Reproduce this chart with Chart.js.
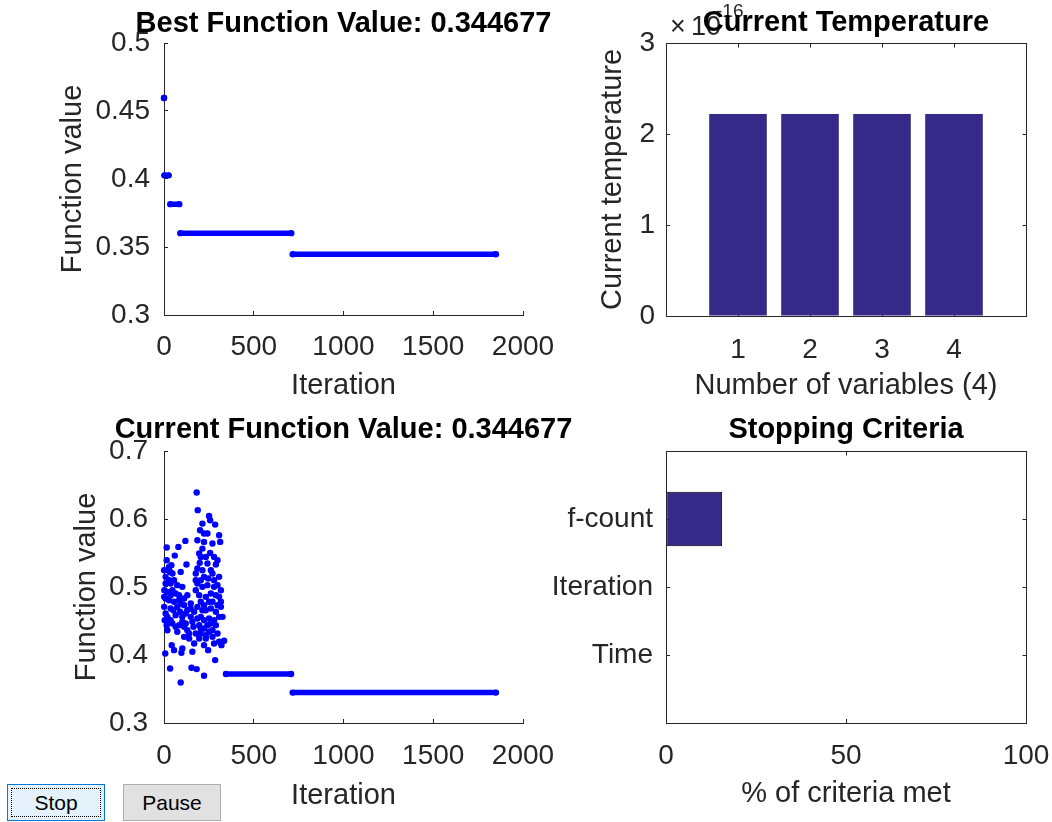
<!DOCTYPE html>
<html>
<head>
<meta charset="utf-8">
<title>Simulated annealing progress</title>
<script src="https://cdn.jsdelivr.net/npm/chart.js@4.4.1/dist/chart.umd.min.js"></script>
<style>
  html, body { margin: 0; padding: 0; background: #fff; }
  #fig { position: relative; width: 1052px; height: 822px; background: #fff; overflow: hidden; }
  #fig canvas { position: absolute; }
  .btn { position: absolute; top: 784px; height: 37px; box-sizing: border-box; padding: 0;
         font: 21px "Liberation Sans", Arial, sans-serif; color: #000; z-index: 2; }
  #stop { left: 7px; width: 98px; background: #e5f1fb; border: 1px solid #0078d7; }
  #stop span { position: absolute; left: 3px; top: 3px; right: 3px; bottom: 3px; border: 1px dotted #000;
               display: flex; align-items: center; justify-content: center; }
  #pause { left: 123px; width: 98px; background: #e1e1e1; border: 1px solid #adadad; }
</style>
</head>
<body>
<div id="fig">
  <canvas id="best" width="600" height="410" style="left:0;top:0"></canvas>
  <canvas id="temp" width="512" height="410" style="left:540px;top:0"></canvas>
  <canvas id="curr" width="600" height="417" style="left:0;top:405px"></canvas>
  <canvas id="crit" width="512" height="417" style="left:540px;top:405px"></canvas>
  <button class="btn" id="stop"><span>Stop</span></button>
  <button class="btn" id="pause">Pause</button>
</div>
<script>
'use strict';

/* ---------- data ---------- */

// best value so far: runs of constant value (start iter, end iter, value)
const bestSegStart = [0, 2, 35, 91, 717];
const bestSegEnd   = [0, 26, 85, 709, 1849];
const bestSegValue = [0.4596, 0.4027, 0.3815, 0.3602, 0.344677];
const bestValue = 0.344677;

// current value: scattered points during the hot phase ...
const currIter = [
  182, 188, 251, 214, 257, 285, 201, 242, 223, 307,
  313, 119, 80, 15, 214, 196, 257, 60, 15, 199,
  125, 289, 28, 242, 261, 34, 47, 93, 177, 223,
  246, 279, 298, 9, 37, 186, 214, 242, 2, 19,
  47, 65, 84, 130, 177, 261, 289, 307, 9, 28,
  56, 93, 112, 149, 205, 223, 270, 298, 1, 37,
  74, 130, 168, 233, 261, 317, 9, 65, 102, 149,
  186, 205, 251, 279, 326, 15, 47, 84, 112, 130,
  196, 223, 261, 28, 140, 205, 233, 270, 233, 307,
  335, 43, 56, 102, 97, 158, 168, 246, 320, 7,
  285, 34, 153, 182, 223, 93,
  1, 22, 41, 9, 28, 56, 74, 102, 1, 37,
  52, 84, 112, 121, 149, 89, 19, 37, 65, 102,
  121, 158, 164, 177, 74, 19, 4, 140, 112,
  186, 223, 270, 205, 233, 279, 298, 186, 214, 270,
  307, 205, 177, 279, 317, 196, 233, 251, 317, 186,
  214, 289, 307, 223, 242, 289, 205, 251, 298, 270,
  196, 223, 279
];
const currValue = [
  0.639, 0.613, 0.6045, 0.5932, 0.5981, 0.5918, 0.5835, 0.5786, 0.5786, 0.5761,
  0.5663, 0.5678, 0.5590, 0.5580, 0.5565, 0.5492, 0.5501, 0.5462, 0.5394, 0.5355,
  0.5330, 0.5330, 0.5296, 0.5345, 0.5247, 0.5222, 0.5198, 0.5222, 0.5198, 0.5149,
  0.5124, 0.5100, 0.5027, 0.5149, 0.5051, 0.5051, 0.5002, 0.5027, 0.4953, 0.4929,
  0.4953, 0.4904, 0.4880, 0.4880, 0.4953, 0.4904, 0.4880, 0.4855, 0.4831, 0.4806,
  0.4782, 0.4757, 0.4733, 0.4757, 0.4782, 0.4733, 0.4782, 0.4733, 0.4708, 0.4684,
  0.4708, 0.4659, 0.4635, 0.4659, 0.4684, 0.4708, 0.4610, 0.4586, 0.4561, 0.4561,
  0.4537, 0.4561, 0.4537, 0.4512, 0.4561, 0.4439, 0.4463, 0.4439, 0.4414, 0.4365,
  0.4439, 0.4390, 0.4463, 0.4512, 0.4316, 0.4316, 0.4292, 0.4365, 0.4243, 0.4194,
  0.4209, 0.4145, 0.4071, 0.4096, 0.4032, 0.4047, 0.4169, 0.4071, 0.4145, 0.4023,
  0.3925, 0.3802, 0.3812, 0.3793, 0.3694, 0.3596,
  0.5247, 0.5247, 0.5320, 0.5051, 0.5100, 0.5100, 0.5027, 0.5002, 0.4855, 0.4880,
  0.4659, 0.4806, 0.4831, 0.4610, 0.4684, 0.4635, 0.4561, 0.4512, 0.4414, 0.4488,
  0.4463, 0.4488, 0.4414, 0.4316, 0.4341, 0.4365, 0.4512, 0.4243, 0.4267,
  0.5688, 0.5663, 0.5639, 0.5443, 0.5443, 0.5443, 0.5394, 0.5271, 0.5247, 0.5198,
  0.5149, 0.5100, 0.5100, 0.5002, 0.4953, 0.4880, 0.4855, 0.4782, 0.4782, 0.4708,
  0.4659, 0.4635, 0.4561, 0.4512, 0.4439, 0.4439, 0.4390, 0.4341, 0.4316, 0.4267,
  0.4243, 0.4145, 0.4169
];
// ... then long flat runs once it has cooled
const currSegStart = [345, 717];
const currSegEnd   = [708, 1849];
const currSegValue = [0.372, 0.344677];
const currentValue = 0.344677;

const iterTicks = [0, 500, 1000, 1500, 2000];
const bestTicks = [0.3, 0.35, 0.4, 0.45, 0.5];
const currTicks = [0.3, 0.4, 0.5, 0.6, 0.7];

// temperature per variable
const variables = [1, 2, 3, 4];
const temperature = [2.2204e-16, 2.2204e-16, 2.2204e-16, 2.2204e-16];
const tempTicks = [0, 1e-16, 2e-16, 3e-16];
const tempExponent = -16;

// stopping criteria
const criteria = ['f-count', 'Iteration', 'Time'];
const criteriaMet = [15.6, 0, 0];
const percentTicks = [0, 50, 100];

/* ---------- styling helpers ---------- */

const FONT = '"Liberation Sans", Arial, Helvetica, sans-serif';
const AXIS = '#262626';
const BLUE = '#0000ff';
const NAVY = '#352a87';

function fixedTicks(values) {
  return scale => { scale.ticks = values.map(v => ({ value: v })); };
}

// MATLAB-like axis: inward tick marks, no grid, fixed box size.
// Label overhang padding is dropped so the plot box stays where layout.padding puts it.
function axis(o) {
  return {
    type: 'linear',
    position: o.position,
    offset: false,
    min: o.min, max: o.max, reverse: !!o.reverse,
    afterBuildTicks: fixedTicks(o.ticks),
    afterFit: s => {
      if (s.isHorizontal()) { s.height = o.size; s.paddingLeft = 0; s.paddingRight = 0; }
      else { s.width = o.size; s.paddingTop = 0; s.paddingBottom = 0; }
    },
    grid: { offset: false, drawOnChartArea: false, drawTicks: true, tickLength: -4, color: AXIS, lineWidth: 1 },
    border: { display: true, color: AXIS, width: 1 },
    ticks: {
      color: AXIS, font: { family: FONT, size: 28 }, padding: o.tickPad,
      autoSkip: false, maxRotation: 0, callback: o.format || (v => String(v)),
    },
    title: {
      display: !!o.title, text: o.title, color: AXIS,
      font: { family: FONT, size: 29 }, padding: o.titlePad || 0,
    },
  };
}

// bold title centred over the plot box, plus optional axis exponent
const plotTitle = {
  id: 'plotTitle',
  afterDraw(chart, args, opts) {
    const { ctx, chartArea: a } = chart;
    ctx.save();
    if (opts.exponent !== undefined) {
      ctx.fillStyle = AXIS;
      ctx.textAlign = 'left';
      ctx.textBaseline = 'alphabetic';
      ctx.font = `27px ${FONT}`;
      ctx.fillText('\u00d7', a.left + 4, 35);
      ctx.fillText('10', a.left + 25, 35);
      ctx.font = `19px ${FONT}`;
      ctx.fillText(String(opts.exponent), a.left + 50, 17);
    }
    ctx.fillStyle = '#000';
    ctx.font = `bold 29px ${FONT}`;
    ctx.textAlign = 'center';
    ctx.textBaseline = 'alphabetic';
    ctx.fillText(opts.text, (a.left + a.right) / 2, opts.baseline);
    ctx.restore();
  },
};

// closed box with mirrored tick marks on top and right
const boxFrame = {
  id: 'boxFrame',
  afterDraw(chart) {
    const { ctx, chartArea: a, scales } = chart;
    const al = p => Math.round(p - 0.5) + 0.5;
    const L = al(a.left), R = al(a.right), T = al(a.top), B = al(a.bottom);
    ctx.save();
    ctx.strokeStyle = AXIS;
    ctx.lineWidth = 1;
    ctx.strokeRect(L, T, R - L, B - T);
    ctx.beginPath();
    scales.x.ticks.forEach(t => {
      const px = al(scales.x.getPixelForValue(t.value));
      if (px <= L + 1 || px >= R - 1) return;
      ctx.moveTo(px, T); ctx.lineTo(px, T + 4);
    });
    scales.y.ticks.forEach(t => {
      const py = al(scales.y.getPixelForValue(t.value));
      if (py <= T + 1 || py >= B - 1) return;
      ctx.moveTo(R, py); ctx.lineTo(R - 4, py);
    });
    ctx.stroke();
    ctx.restore();
  },
};

const common = {
  responsive: false,
  animation: false,
  events: [],
  plugins: { legend: { display: false }, tooltip: { enabled: false } },
};

function segmentSets(starts, ends, values) {
  return starts.map((s, i) => ({
    data: [{ x: s, y: values[i] }, { x: ends[i], y: values[i] }],
    showLine: true,
    borderColor: BLUE,
    borderWidth: 5.5,
    borderCapStyle: 'round',
    pointRadius: 3.2,
    pointBackgroundColor: BLUE,
    pointBorderWidth: 0,
    clip: false,
  }));
}

/* ---------- best function value ---------- */

new Chart(document.getElementById('best'), {
  type: 'scatter',
  data: { datasets: segmentSets(bestSegStart, bestSegEnd, bestSegValue) },
  options: {
    ...common,
    layout: { padding: { left: 0, top: 43, right: 77, bottom: 0 } },
    scales: {
      x: axis({ position: 'bottom', min: 0, max: 2000, ticks: iterTicks, size: 95, tickPad: 19,
                title: 'Iteration', titlePad: { bottom: 6.6 } }),
      y: axis({ position: 'left', min: 0.3, max: 0.5, ticks: bestTicks, size: 164, tickPad: 18,
                title: 'Function value', titlePad: { top: 55.6 } }),
    },
    plugins: { ...common.plugins, plotTitle: { text: 'Best Function Value: ' + bestValue, baseline: 31.5 } },
  },
  plugins: [plotTitle],
});

/* ---------- current temperature ---------- */

new Chart(document.getElementById('temp'), {
  type: 'bar',
  data: {
    datasets: [{
      data: variables.map((v, i) => ({ x: v, y: temperature[i] })),
      backgroundColor: NAVY,
      borderWidth: 0,
      barPercentage: 0.8,
      categoryPercentage: 1,
    }],
  },
  options: {
    ...common,
    layout: { padding: { left: 0, top: 43, right: 26, bottom: 0 } },
    scales: {
      x: axis({ position: 'bottom', min: 0, max: 5, ticks: variables, size: 94, tickPad: 21,
                title: 'Number of variables (' + variables.length + ')', titlePad: { bottom: 6.6 } }),
      y: axis({ position: 'left', min: 0, max: 3e-16, ticks: tempTicks, size: 126, tickPad: 15,
                format: v => String(Math.round(v / Math.pow(10, tempExponent))),
                title: 'Current temperature', titlePad: { top: 55.6 } }),
    },
    plugins: { ...common.plugins, plotTitle: { text: 'Current Temperature', baseline: 31, exponent: tempExponent } },
  },
  plugins: [boxFrame, plotTitle],
});

/* ---------- current function value ---------- */

new Chart(document.getElementById('curr'), {
  type: 'scatter',
  data: {
    datasets: [
      {
        data: currIter.map((it, i) => ({ x: it, y: currValue[i] })),
        pointRadius: 3.2,
        pointBackgroundColor: BLUE,
        pointBorderWidth: 0,
        clip: false,
      },
      ...segmentSets(currSegStart, currSegEnd, currSegValue),
    ],
  },
  options: {
    ...common,
    layout: { padding: { left: 0, top: 46, right: 77, bottom: 0 } },
    scales: {
      x: axis({ position: 'bottom', min: 0, max: 2000, ticks: iterTicks, size: 99, tickPad: 20,
                title: 'Iteration', titlePad: { bottom: 8.6 } }),
      y: axis({ position: 'left', min: 0.3, max: 0.7, ticks: currTicks, size: 164, tickPad: 20,
                title: 'Function value', titlePad: { top: 69.6 } }),
    },
    plugins: { ...common.plugins, plotTitle: { text: 'Current Function Value: ' + currentValue, baseline: 32.7 } },
  },
  plugins: [plotTitle],
});

/* ---------- stopping criteria ---------- */

new Chart(document.getElementById('crit'), {
  type: 'bar',
  data: {
    datasets: [{
      data: criteria.map((c, i) => ({ x: criteriaMet[i], y: i + 1 })),
      backgroundColor: NAVY,
      borderColor: '#000',
      borderWidth: 1,
      borderSkipped: false,
      barPercentage: 0.8,
      categoryPercentage: 1,
    }],
  },
  options: {
    ...common,
    indexAxis: 'y',
    layout: { padding: { left: 0, top: 46, right: 26, bottom: 0 } },
    scales: {
      x: axis({ position: 'bottom', min: 0, max: 100, ticks: percentTicks, size: 99, tickPad: 20,
                title: '% of criteria met', titlePad: { bottom: 10.6 } }),
      y: axis({ position: 'left', min: 0, max: 4, reverse: true, ticks: [1, 2, 3], size: 126, tickPad: 17,
                format: v => criteria[v - 1] }),
    },
    plugins: { ...common.plugins, plotTitle: { text: 'Stopping Criteria', baseline: 32.7 } },
  },
  plugins: [boxFrame, plotTitle],
});
</script>
</body>
</html>
